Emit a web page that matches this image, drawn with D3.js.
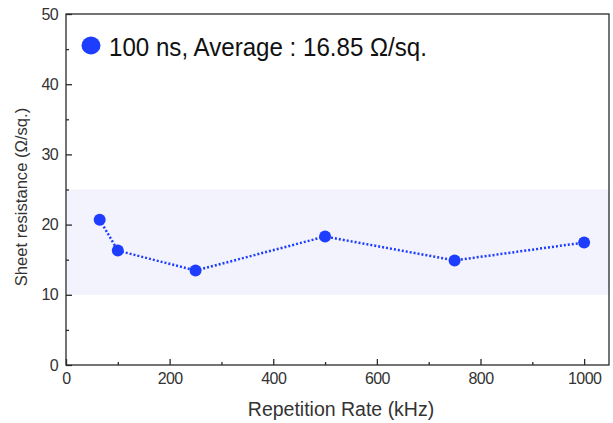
<!DOCTYPE html>
<html>
<head>
<meta charset="utf-8">
<script src="https://cdn.jsdelivr.net/npm/d3@7/dist/d3.min.js"></script>
<style>
  html, body { margin: 0; padding: 0; background: #fff; }
  svg { display: block; font-family: "Liberation Sans", Arial, sans-serif; }
</style>
</head>
<body>
<svg id="chart" width="613" height="423"></svg>
<script>
// Sheet resistance vs. repetition rate, 100 ns pulse width
const repRate = [65, 100, 250, 500, 750, 1000];            // kHz
const sheetRes = [20.7, 16.3, 13.45, 18.3, 14.9, 17.45];   // Ω/sq.
const bandRange = [10, 25];                                // shaded window
const xTicks = [0, 200, 400, 600, 800, 1000];
const xMinorTicks = [100, 300, 500, 700, 900];
const yTicks = [0, 10, 20, 30, 40, 50];
const yMinorTicks = [5, 15, 25, 35, 45];
const legendText = "100 ns, Average : 16.85 Ω/sq.";

const svg = d3.select("#chart");
const margin = { left: 66, right: 4, top: 14, bottom: 58 };
const W = 613, H = 423;

const x = d3.scaleLinear().domain([0, 1048]).range([margin.left, W - margin.right]);
const y = d3.scaleLinear().domain([0, 50]).range([H - margin.bottom, margin.top]);

const blue = "#1f3dff";
const axisColor = "#2a2a2a";

// shaded band
svg.append("rect")
  .attr("x", x(0) + 1)
  .attr("width", x.range()[1] - x(0) - 1)
  .attr("y", y(bandRange[1]))
  .attr("height", y(bandRange[0]) - y(bandRange[1]))
  .attr("fill", "#f2f3fd");

// frame
svg.append("rect")
  .attr("x", x.range()[0]).attr("y", y.range()[1])
  .attr("width", x.range()[1] - x.range()[0])
  .attr("height", y.range()[0] - y.range()[1])
  .attr("fill", "none").attr("stroke", axisColor).attr("stroke-width", 1.3);

function styleAxis(g) {
  g.select(".domain").remove();
  g.selectAll("line").attr("stroke", axisColor).attr("stroke-width", 1.3);
  g.selectAll("text").attr("fill", "#333").attr("font-size", 16).attr("letter-spacing", "-0.6px");
}

// x axis (inward ticks)
svg.append("g").attr("transform", `translate(0,${y(0)})`)
  .call(d3.axisBottom(x).tickValues(xTicks).tickSize(-6).tickPadding(8).tickFormat(d3.format("d")))
  .call(styleAxis);
svg.append("g").attr("transform", `translate(0,${y(0)})`)
  .call(d3.axisBottom(x).tickValues(xMinorTicks).tickSize(-3).tickFormat(""))
  .call(styleAxis);

// y axis (inward ticks)
svg.append("g").attr("transform", `translate(${x(0)},0)`)
  .call(d3.axisLeft(y).tickValues(yTicks).tickSize(-6).tickPadding(8).tickFormat(d3.format("d")))
  .call(styleAxis);
svg.append("g").attr("transform", `translate(${x(0)},0)`)
  .call(d3.axisLeft(y).tickValues(yMinorTicks).tickSize(-3).tickFormat(""))
  .call(styleAxis);

// axis titles
svg.append("text")
  .attr("x", 341).attr("y", 416)
  .attr("text-anchor", "middle").attr("font-size", 19.5).attr("fill", "#333")
  .text("Repetition Rate (kHz)");
svg.append("text")
  .attr("transform", "translate(27,197) rotate(-90)")
  .attr("text-anchor", "middle").attr("font-size", 16.6).attr("fill", "#333")
  .text("Sheet resistance (Ω/sq.)");

// data line
const pts = repRate.map((r, i) => [r, sheetRes[i]]);
svg.append("path")
  .datum(pts)
  .attr("d", d3.line().x(d => x(d[0])).y(d => y(d[1])))
  .attr("fill", "none").attr("stroke", blue)
  .attr("stroke-width", 2.5).attr("stroke-dasharray", "2,2");

svg.selectAll("circle.pt").data(pts).enter().append("circle")
  .attr("class", "pt")
  .attr("cx", d => x(d[0])).attr("cy", d => y(d[1]))
  .attr("r", 6).attr("fill", blue);

// legend
svg.append("ellipse").attr("cx", 91).attr("cy", 45.5).attr("rx", 9.5).attr("ry", 9).attr("fill", blue);
svg.append("text")
  .attr("x", 109).attr("y", 55.5)
  .attr("font-size", 25).attr("fill", "#111")
  .attr("textLength", 318).attr("lengthAdjust", "spacingAndGlyphs")
  .text(legendText);
</script>
</body>
</html>
